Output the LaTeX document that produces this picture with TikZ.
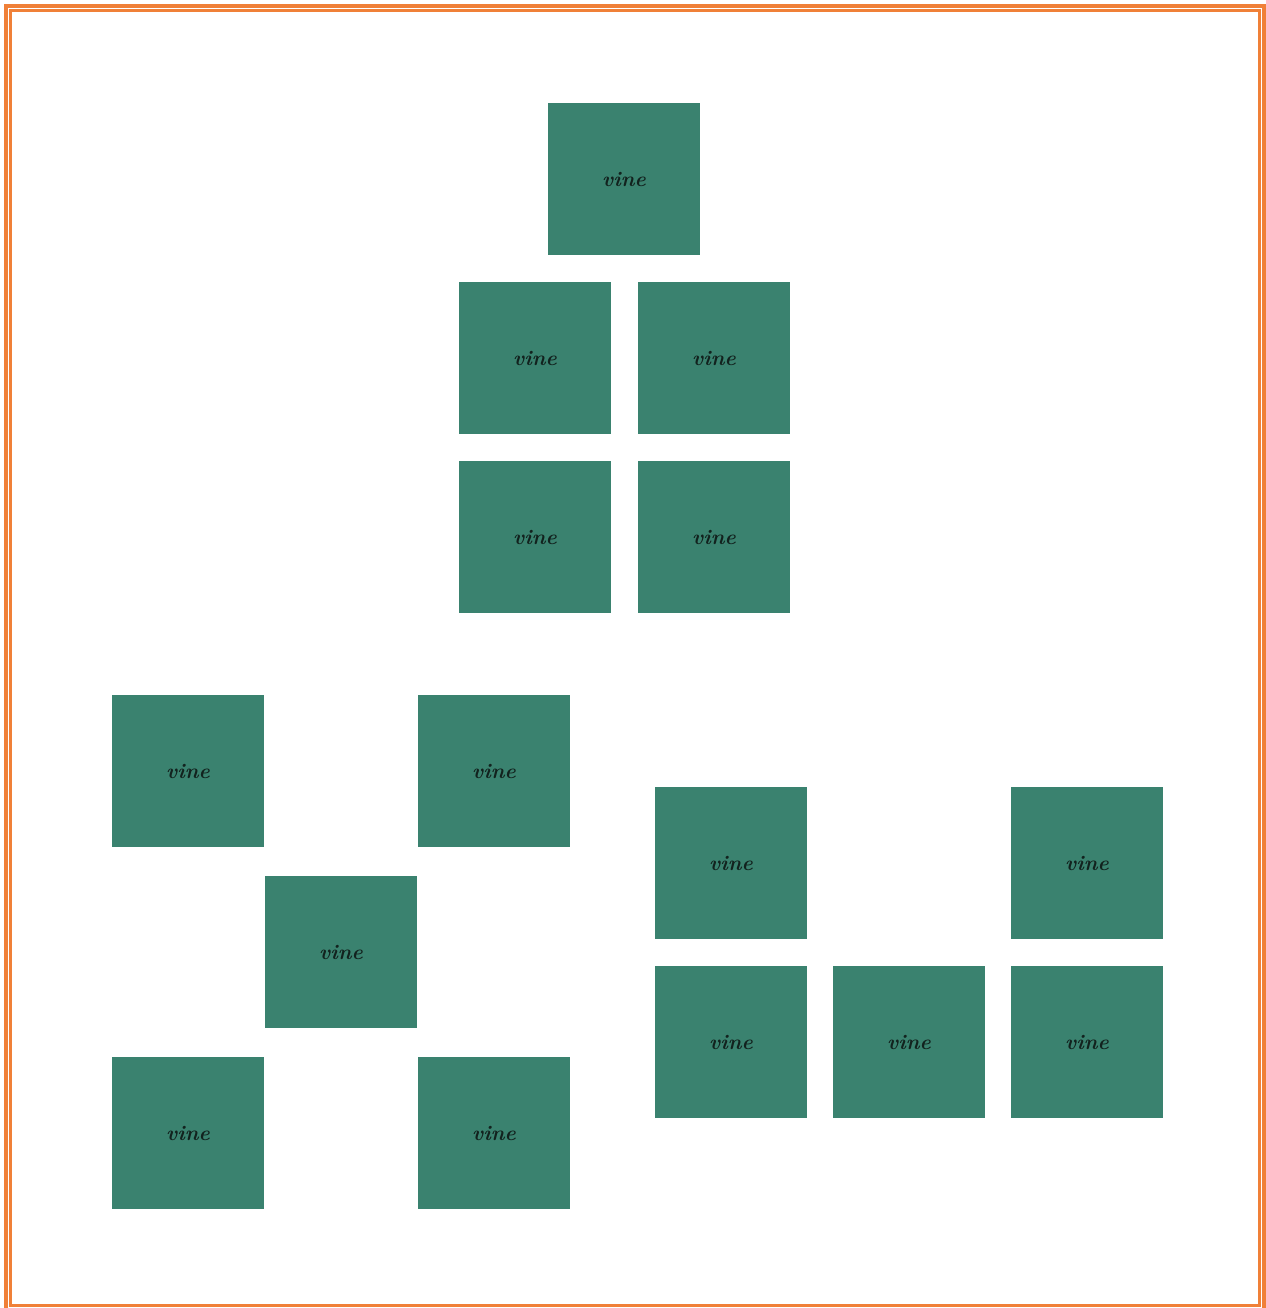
\documentclass[tikz,border=0pt]{standalone}
\usepackage{tikz}
\definecolor{tilegreen}{RGB}{58,130,111}
\definecolor{textdark}{RGB}{18,34,30}
\definecolor{frameorange}{RGB}{240,128,56}
\begin{document}
\begin{tikzpicture}[x=0.02cm,y=-0.02cm,
  tile/.style={fill=tilegreen,draw=none,minimum width=3.04cm,minimum height=3.04cm,inner sep=0pt,
    text=textdark,font=\fontsize{12}{14}\selectfont\bfseries\itshape},
  outerframe/.style={draw=frameorange,line width=0.08cm},
  innerframe/.style={draw=frameorange,line width=0.045cm}]
\useasboundingbox (0,0) rectangle (1265,1308);
\draw[outerframe] (6,6) rectangle (1263.5,1309.5);
\draw[innerframe] (10.5,10.5) rectangle (1259.5,1305.5);
% top group
\node[tile] (t1) at (624,179) {vine};
\node[tile] (t2) at (535,358) {vine};
\node[tile] (t3) at (714,358) {vine};
\node[tile] (t4) at (535,537) {vine};
\node[tile] (t5) at (714,537) {vine};
% left group
\node[tile] (l1) at (188,771) {vine};
\node[tile] (l2) at (494,771) {vine};
\node[tile] (l3) at (341,952) {vine};
\node[tile] (l4) at (188,1133) {vine};
\node[tile] (l5) at (494,1133) {vine};
% right group
\node[tile] (r1) at (731,863) {vine};
\node[tile] (r2) at (1087,863) {vine};
\node[tile] (r3) at (731,1042) {vine};
\node[tile] (r4) at (909,1042) {vine};
\node[tile] (r5) at (1087,1042) {vine};
\end{tikzpicture}
\end{document}
